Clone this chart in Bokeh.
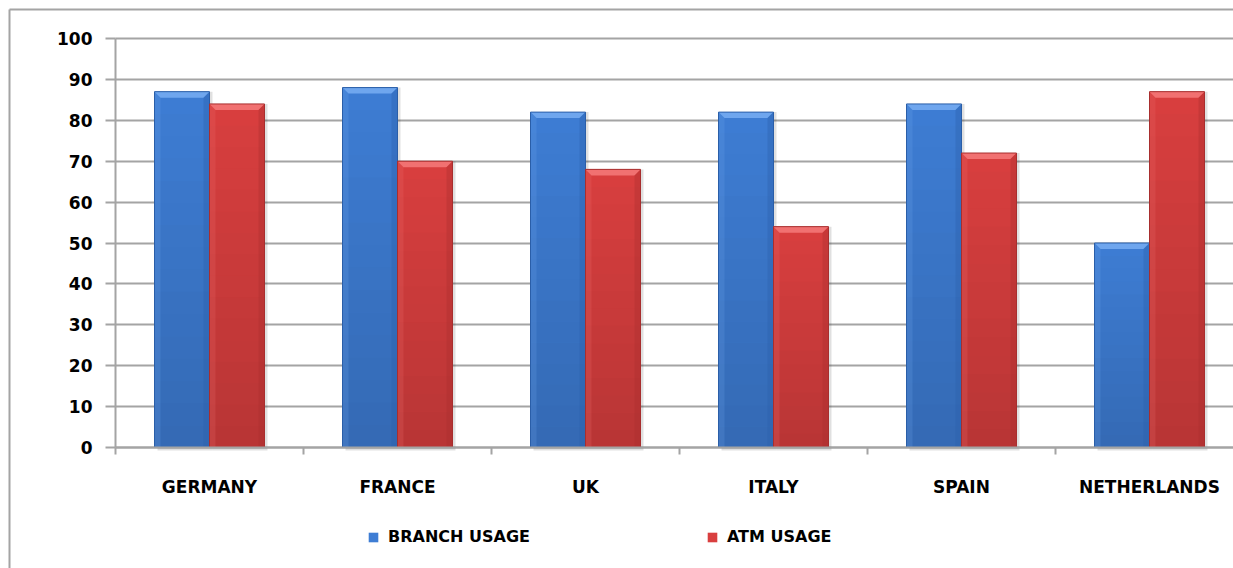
from bokeh.plotting import figure
from bokeh.models import (Range1d, FixedTicker, Legend, LegendItem, LinearAxis,
                          ColumnDataSource)
from bokeh.embed import file_html
from bokeh.resources import INLINE

# Survey results: share of customers using each banking channel (%)
countries = ["GERMANY", "FRANCE", "UK", "ITALY", "SPAIN", "NETHERLANDS"]
branch_usage = [87, 88, 82, 82, 84, 50]
atm_usage = [84, 70, 68, 54, 72, 87]
y_ticks = [0, 10, 20, 30, 40, 50, 60, 70, 80, 90, 100]

W, H = 1233, 568
AXIS_X, AXIS_Y = 115, 447            # pixel position of the value/category axes
px_x = 188.0                         # px per category slot
px_y = 409 / 100.0                   # px per percentage point
x_end = (W - AXIS_X) / px_x

BLUE, BLUE_TOP, BLUE_DARK = "#3e7dd4", "#72a9ef", "#2a5ea8"
RED, RED_TOP, RED_DARK = "#d93f3f", "#f27474", "#a82e2e"
GRID = "#a4a4a4"
FONT = "DejaVu Sans"

# the plotting frame covers the whole canvas; axes sit at fixed data locations
p = figure(width=W, height=H, output_backend="svg", toolbar_location=None,
           x_range=Range1d(-AXIS_X / px_x, x_end),
           y_range=Range1d(-(H - AXIS_Y) / px_y, AXIS_Y / px_y),
           min_border=0, x_axis_location=None, y_axis_location=None)
p.outline_line_color = None
p.background_fill_color = "white"
p.border_fill_color = "white"

# outer chart border (top and left edges; the others run off the canvas)
bx, by = (9 - AXIS_X) / px_x, (AXIS_Y - 9) / px_y
p.segment(x0=[bx, bx], y0=[by, by], x1=[x_end + 1, bx], y1=[by, -100],
          line_color=GRID, line_width=2)

bar_w = 55.0 / px_x
bev_x = 6.0 / px_x
bev_y = 6.0 / px_y
sh_x = 3.0 / px_x
sh_y = 3.0 / px_y
N_BANDS = 16

renderers = []
for k, (vals, face, top_c, dark) in enumerate(
        [(branch_usage, BLUE, BLUE_TOP, BLUE_DARK), (atm_usage, RED, RED_TOP, RED_DARK)]):
    centers = [i + 0.5 + (k - 0.5) * bar_w for i in range(len(countries))]
    x0 = [c - bar_w / 2 for c in centers]
    x1 = [c + bar_w / 2 for c in centers]
    # soft drop shadow
    p.vbar(x=[c + sh_x for c in centers], top=vals, bottom=[-sh_y] * len(vals),
           width=bar_w, fill_color="#000000", fill_alpha=0.12, line_color=None)
    src = ColumnDataSource(dict(x=centers, top=vals))
    r = p.vbar(x="x", top="top", width=bar_w, source=src, fill_color=face,
               line_color=None)
    renderers.append(r)
    # face shading: slightly darker towards the base
    for j in range(N_BANDS):
        p.vbar(x=centers, width=bar_w,
               bottom=[v * j / N_BANDS for v in vals],
               top=[v * (j + 1) / N_BANDS for v in vals],
               fill_color="#000000", line_color=None,
               fill_alpha=0.15 * (1 - (j + 0.5) / N_BANDS))
    # bevel: lighter top facet
    p.patches(xs=[[a, b, b - bev_x, a + bev_x] for a, b in zip(x0, x1)],
              ys=[[v, v, v - bev_y, v - bev_y] for v in vals],
              fill_color=top_c, line_color=None, fill_alpha=0.95)
    # bevel: darker right facet
    p.patches(xs=[[b, b, b - bev_x, b - bev_x] for b in x1],
              ys=[[v, 0, 0, v - bev_y] for v in vals],
              fill_color=dark, line_color=None, fill_alpha=0.35)
    # bevel: lighter left facet
    p.patches(xs=[[a, a, a + bev_x, a + bev_x] for a in x0],
              ys=[[v, 0, 0, v - bev_y] for v in vals],
              fill_color=top_c, line_color=None, fill_alpha=0.2)
    # bar outline
    p.vbar(x=centers, top=vals, width=bar_w, fill_color=None,
           line_color=dark, line_width=1)

# value axis
yax = LinearAxis(fixed_location=0, bounds=(0, 100),
                 ticker=FixedTicker(ticks=y_ticks, minor_ticks=[]))
yax.axis_line_color = GRID
yax.axis_line_width = 2
yax.major_tick_line_color = GRID
yax.major_tick_line_width = 2
yax.major_tick_out = 10
yax.major_tick_in = 0
yax.major_label_standoff = 13
yax.major_label_text_font = FONT
yax.major_label_text_font_style = "bold"
yax.major_label_text_font_size = "17px"
yax.major_label_text_color = "black"
p.add_layout(yax, "left")

# category axis: labels centred in each slot, tick marks on slot boundaries
xax = LinearAxis(fixed_location=0, bounds=(0, x_end),
                 ticker=FixedTicker(ticks=[i + 0.5 for i in range(len(countries))],
                                    minor_ticks=list(range(len(countries) + 1))))
xax.major_label_overrides = {i + 0.5: c for i, c in enumerate(countries)}
xax.axis_line_color = GRID
xax.axis_line_width = 2
xax.major_tick_line_color = None
xax.major_tick_out = 0
xax.major_tick_in = 0
xax.minor_tick_line_color = GRID
xax.minor_tick_line_width = 2
xax.minor_tick_out = 7
xax.minor_tick_in = 0
xax.major_label_standoff = 22
xax.major_label_text_font = FONT
xax.major_label_text_font_style = "bold"
xax.major_label_text_font_size = "17px"
xax.major_label_text_color = "black"
p.add_layout(xax, "below")

p.xgrid.grid_line_color = None
p.ygrid.ticker = FixedTicker(ticks=y_ticks)
p.ygrid.bounds = (0, 100)
p.ygrid.cross_bounds = (0, x_end)
p.ygrid.grid_line_color = GRID
p.ygrid.grid_line_width = 2

legend = Legend(items=[LegendItem(label="BRANCH USAGE", renderers=[renderers[0]]),
                       LegendItem(label="ATM USAGE", renderers=[renderers[1]])],
                orientation="horizontal", location=(367, H - 546),
                glyph_width=12, glyph_height=12, label_height=12,
                label_standoff=9, spacing=176, padding=0, margin=0,
                border_line_color=None, background_fill_alpha=0,
                label_text_font=FONT, label_text_font_style="bold",
                label_text_font_size="16px", label_text_color="black")
p.add_layout(legend, "center")

open("out.html", "w").write(file_html(p, INLINE))
